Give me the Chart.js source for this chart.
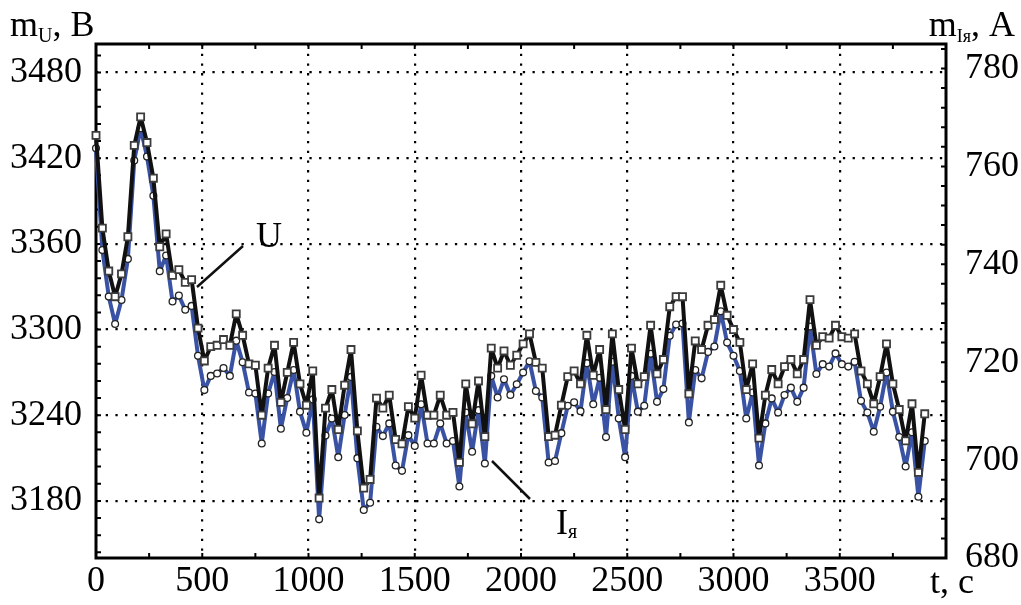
<!DOCTYPE html>
<html>
<head>
<meta charset="utf-8">
<script src="https://cdn.jsdelivr.net/npm/chart.js@4.4.1/dist/chart.umd.min.js"></script>
<style>
  html, body { margin: 0; padding: 0; background: #fff; }
  #wrap { width: 1021px; height: 605px; position: relative; }
</style>
</head>
<body>
<div id="wrap"><canvas id="chart"></canvas></div>
<script>
// time, s
var times = [0, 30, 60, 90, 120, 150, 180, 210, 240, 270, 300, 330, 360, 390, 420, 450, 480, 510, 540, 570,
  600, 630, 660, 690, 720, 750, 780, 810, 840, 870, 900, 930, 960, 990, 1020, 1050, 1080, 1110, 1140, 1170,
  1200, 1230, 1260, 1290, 1320, 1350, 1380, 1410, 1440, 1470, 1500, 1530, 1560, 1590, 1620, 1650, 1680, 1710, 1740, 1770,
  1800, 1830, 1860, 1890, 1920, 1950, 1980, 2010, 2040, 2070, 2100, 2130, 2160, 2190, 2220, 2250, 2280, 2310, 2340, 2370,
  2400, 2430, 2460, 2490, 2520, 2550, 2580, 2610, 2640, 2670, 2700, 2730, 2760, 2790, 2820, 2850, 2880, 2910, 2940, 2970,
  3000, 3030, 3060, 3090, 3120, 3150, 3180, 3210, 3240, 3270, 3300, 3330, 3360, 3390, 3420, 3450, 3480, 3510, 3540, 3570,
  3600, 3630, 3660, 3690, 3720, 3750, 3780, 3810, 3840, 3870, 3900];

// m_U, B
var uValues = [3436, 3371, 3341, 3323, 3339, 3365, 3429, 3449, 3431, 3406, 3358, 3367, 3338, 3342, 3333, 3335, 3301, 3278, 3288, 3289,
  3293, 3289, 3311, 3296, 3276, 3275, 3240, 3273, 3289, 3249, 3270, 3291, 3262, 3247, 3271, 3182, 3245, 3258, 3230, 3261,
  3286, 3229, 3189, 3195, 3252, 3245, 3254, 3223, 3220, 3246, 3238, 3268, 3240, 3240, 3254, 3240, 3242, 3207, 3262, 3234,
  3264, 3225, 3287, 3273, 3285, 3275, 3282, 3290, 3297, 3277, 3273, 3225, 3226, 3247, 3267, 3271, 3262, 3296, 3268, 3286,
  3244, 3297, 3258, 3230, 3287, 3262, 3267, 3303, 3269, 3279, 3316, 3323, 3323, 3255, 3292, 3286, 3303, 3307, 3331, 3310,
  3300, 3291, 3258, 3276, 3224, 3254, 3272, 3262, 3274, 3279, 3269, 3279, 3321, 3289, 3295, 3294, 3303, 3295, 3294, 3297,
  3271, 3262, 3248, 3267, 3290, 3262, 3244, 3222, 3248, 3200, 3241];

// m_Iя, A
var iValues = [763.7, 742.9, 733.4, 727.8, 732.7, 741.1, 761.2, 767.8, 762.0, 754.0, 738.6, 741.8, 732.4, 733.6, 730.7, 731.5, 721.3, 714.3, 717.2, 717.7,
  718.8, 717.2, 724.4, 720.0, 713.8, 713.6, 703.4, 713.6, 718.0, 706.4, 712.7, 718.4, 709.9, 705.6, 712.4, 687.9, 705.0, 708.5, 700.6, 709.2,
  717.0, 700.4, 689.8, 691.3, 706.8, 704.9, 707.5, 698.9, 697.8, 705.1, 702.9, 711.4, 703.4, 703.4, 707.5, 703.4, 703.9, 694.6, 709.7, 701.7,
  710.2, 699.3, 717.2, 712.8, 716.5, 713.3, 715.5, 717.9, 720.2, 714.1, 712.8, 699.5, 699.8, 705.5, 711.1, 711.8, 710.0, 719.8, 711.4, 716.8,
  704.7, 720.1, 708.5, 700.6, 717.2, 709.9, 711.1, 721.7, 711.9, 714.5, 725.4, 727.7, 727.9, 707.7, 718.4, 716.7, 722.1, 723.2, 730.4, 724.0,
  721.3, 718.2, 708.5, 713.8, 698.9, 707.5, 712.6, 709.7, 713.3, 714.8, 711.9, 714.8, 727.3, 717.6, 719.6, 719.1, 721.8, 719.6, 719.1, 720.1,
  712.1, 709.7, 705.8, 710.9, 717.9, 709.9, 704.7, 698.7, 705.7, 692.5, 703.9];

var xTicks = [0, 500, 1000, 1500, 2000, 2500, 3000, 3500, 4000];
var uTicks = [3180, 3240, 3300, 3360, 3420, 3480];
var iTicks = [680, 700, 720, 740, 760, 780];

var FONT = '"Liberation Serif", "Times New Roman", serif';
var DOTS = [2.3, 7.4];

function fixTicks(list) {
  return function (scale) {
    scale.ticks = list.map(function (v) { return { value: v }; });
  };
}

function plain(v) { return String(v); }

// frame, inward tick marks, axis titles and the two call-outs
var decor = {
  id: 'decor',
  beforeDatasetsDraw: function (chart) {
    var ctx = chart.ctx, a = chart.chartArea, s = chart.scales;
    ctx.save();
    ctx.strokeStyle = '#000';
    ctx.lineWidth = 2;
    ctx.beginPath();
    var v, p;
    for (v = 3144; v <= 3496; v += 12) {
      p = s.y.getPixelForValue(v);
      ctx.moveTo(a.left, p); ctx.lineTo(a.left + 5, p);
    }
    for (v = 680; v <= 784; v += 4) {
      p = s.y1.getPixelForValue(v);
      ctx.moveTo(a.right, p); ctx.lineTo(a.right - 5, p);
    }
    for (v = 0; v <= 4000; v += 250) {
      p = s.x.getPixelForValue(v);
      ctx.moveTo(p, a.top); ctx.lineTo(p, a.top + 5);
      ctx.moveTo(p, a.bottom); ctx.lineTo(p, a.bottom - 5);
    }
    ctx.stroke();
    ctx.lineWidth = 3;
    ctx.strokeRect(a.left, a.top, a.right - a.left, a.bottom - a.top);
    ctx.restore();
  },
  afterDraw: function (chart) {
    var ctx = chart.ctx;
    ctx.save();
    ctx.fillStyle = '#000';
    ctx.textBaseline = 'alphabetic';
    ctx.textAlign = 'left';
    function run(parts, x) {
      parts.forEach(function (pt) {
        ctx.font = pt[1] + 'px ' + FONT;
        ctx.fillText(pt[0], x, pt[2]);
        x += ctx.measureText(pt[0]).width;
      });
      return x;
    }
    function width(parts) {
      var w = 0;
      parts.forEach(function (pt) { ctx.font = pt[1] + 'px ' + FONT; w += ctx.measureText(pt[0]).width; });
      return w;
    }
    run([['m', 36, 36], ['U', 20, 42], [', B', 36, 36]], 10);
    var right = [['m', 36, 36], ['Iя', 18, 42], [', A', 36, 36]];
    run(right, 1015 - width(right));
    run([['t, c', 36, 593]], 930);

    run([['U', 36, 247]], 256);
    run([['I', 36, 534], ['я', 20, 538]], 556);

    ctx.strokeStyle = '#111';
    ctx.lineWidth = 2.5;
    ctx.beginPath();
    ctx.moveTo(197, 287); ctx.lineTo(243, 246);
    ctx.moveTo(492, 461); ctx.lineTo(530, 499);
    ctx.stroke();
    ctx.restore();
  }
};

var ctx = document.getElementById('chart').getContext('2d');
var chart = new Chart(ctx, {
  type: 'line',
  data: {
    datasets: [
      {
        label: 'U',
        yAxisID: 'y',
        data: times.map(function (t, i) { return { x: t, y: uValues[i] }; }),
        borderColor: '#111111',
        borderWidth: 4,
        borderJoinStyle: 'round',
        pointStyle: 'rect',
        pointRadius: 5,
        pointBorderWidth: 1.8,
        pointBorderColor: '#3c3c3c',
        pointBackgroundColor: '#ffffff',
        tension: 0,
        clip: false,
        order: 0
      },
      {
        label: 'Iя',
        yAxisID: 'y1',
        data: times.map(function (t, i) { return { x: t, y: iValues[i] }; }),
        borderColor: '#3a52a3',
        borderWidth: 4,
        borderJoinStyle: 'round',
        pointStyle: 'circle',
        pointRadius: 3.4,
        pointBorderWidth: 1.3,
        pointBorderColor: '#222222',
        pointBackgroundColor: '#ffffff',
        tension: 0,
        clip: false,
        order: 1
      }
    ]
  },
  options: {
    responsive: true,
    maintainAspectRatio: false,
    animation: false,
    layout: { padding: { top: 44, left: 0, right: 0, bottom: 0 } },
    plugins: { legend: { display: false }, tooltip: { enabled: false } },
    scales: {
      x: {
        type: 'linear',
        min: 0,
        max: 4000,
        afterBuildTicks: fixTicks(xTicks),
        afterFit: function (s) { s.height = 47; },
        border: { display: false, dash: DOTS },
        grid: {
          drawTicks: false,
          color: function (c) { return (c.tick && (c.tick.value === 0 || c.tick.value === 4000)) ? 'rgba(0,0,0,0)' : '#000'; },
          lineWidth: 2.2
        },
        ticks: {
          autoSkip: false,
          maxRotation: 0,
          padding: 2,
          color: '#000',
          font: { family: FONT, size: 36 },
          callback: function (v) { return v === 4000 ? '' : plain(v); }
        }
      },
      y: {
        position: 'left',
        min: 3140,
        max: 3500,
        afterBuildTicks: fixTicks(uTicks),
        afterFit: function (s) { s.width = 96; },
        border: { display: false, dash: DOTS },
        grid: { drawTicks: false, color: '#000', lineWidth: 2.2 },
        ticks: { padding: 14, color: '#000', font: { family: FONT, size: 36 }, callback: plain }
      },
      y1: {
        position: 'right',
        min: 680,
        max: 785,
        afterBuildTicks: fixTicks(iTicks),
        afterFit: function (s) { s.width = 75; },
        border: { display: false },
        grid: { display: false, drawTicks: false },
        ticks: { padding: 19, color: '#000', font: { family: FONT, size: 36 }, callback: plain }
      }
    }
  },
  plugins: [decor]
});
</script>
</body>
</html>
